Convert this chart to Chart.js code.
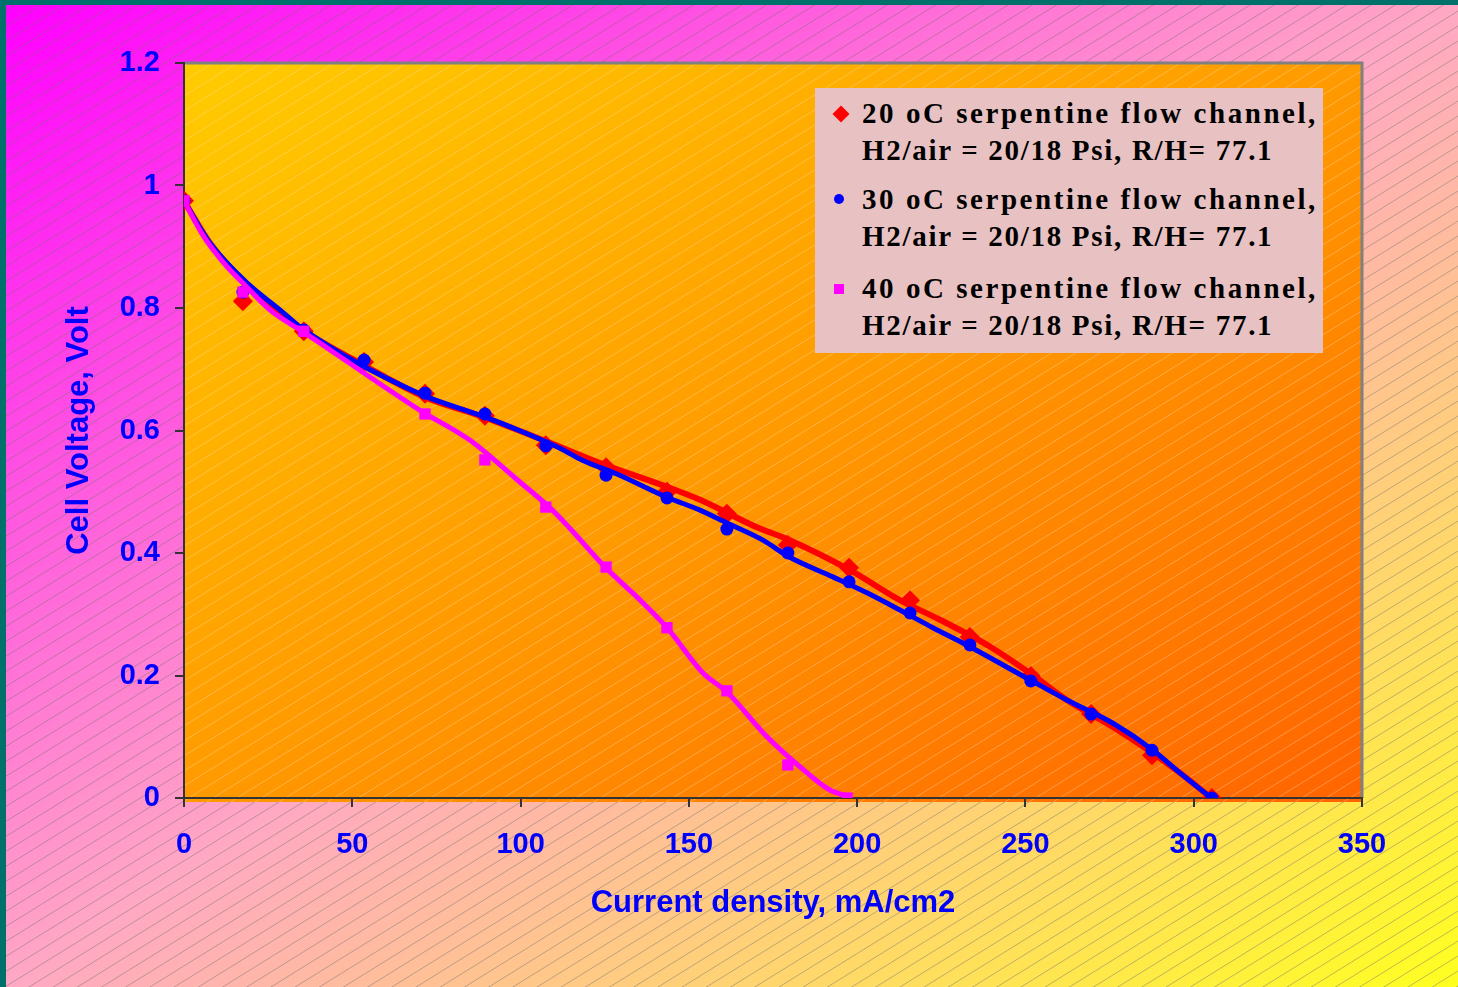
<!DOCTYPE html>
<html>
<head>
<meta charset="utf-8">
<script src="https://cdn.jsdelivr.net/npm/chart.js@4/dist/chart.umd.min.js"></script>
<style>
  body { margin: 0; width: 1458px; height: 987px; overflow: hidden; }
  #wrap { position: relative; width: 1458px; height: 987px; }
  #legend {
    position: absolute; left: 815px; top: 88px; width: 508px; height: 265px;
    background: #e8c2c2; box-sizing: border-box;
    font-family: "Liberation Serif", "Times New Roman", serif; font-weight: bold;
    font-size: 29px; color: #000;
  }
  .item { position: absolute; left: 47px; }
  .l1 { letter-spacing: 2.55px; white-space: nowrap; line-height: 37px; }
  .l2 { letter-spacing: 1.7px; white-space: nowrap; line-height: 37px; }
  .mk { position: absolute; }
</style>
</head>
<body>
<div id="wrap">
  <canvas id="chart" width="1458" height="987"></canvas>
  <div id="legend"></div>
</div>
<script>
// Series 1: 20 oC, series 2: 30 oC, series 3: 40 oC (all: H2/air = 20/18 Psi, R/H= 77.1)
const legendLines = [
  ["20 oC serpentine flow channel,", "H2/air = 20/18 Psi, R/H= 77.1"],
  ["30 oC serpentine flow channel,", "H2/air = 20/18 Psi, R/H= 77.1"],
  ["40 oC serpentine flow channel,", "H2/air = 20/18 Psi, R/H= 77.1"]
];

// measured points (current density, mA/cm2)
const currentRB = [0, 17.5, 35.6, 53.5, 71.6, 89.4, 107.5, 125.4, 143.5, 161.3, 179.4, 197.6, 215.7, 233.5, 251.6, 269.5, 287.6, 305.4];
const volt20 = [0.975, 0.811, 0.762, 0.712, 0.660, 0.624, 0.576, 0.540, 0.500, 0.464, 0.413, 0.376, 0.323, 0.263, 0.199, 0.137, 0.070, 0.0];
const volt30 = [0.975, 0.826, 0.764, 0.715, 0.661, 0.627, 0.575, 0.527, 0.490, 0.439, 0.400, 0.353, 0.302, 0.250, 0.191, 0.137, 0.078, 0.0];
const current40 = [0, 17.5, 35.6, 71.6, 89.4, 107.5, 125.4, 143.5, 161.3, 179.4, 197.0];
const volt40 = [0.975, 0.826, 0.762, 0.627, 0.552, 0.475, 0.377, 0.278, 0.175, 0.054, 0.0];

// trend lines
const trend20x = [0, 7.7, 18.7, 34.5, 52.3, 72.2, 87.9, 108.7, 123.6, 143.5, 153.3, 170.2, 180.0, 197.9, 212.7, 224.6, 239.5, 251.3, 262.3, 276.0, 287.9, 295.9, 304.8];
const trend20y = [0.975, 0.906, 0.838, 0.767, 0.710, 0.653, 0.624, 0.580, 0.547, 0.508, 0.487, 0.442, 0.421, 0.372, 0.323, 0.291, 0.247, 0.204, 0.160, 0.116, 0.073, 0.041, 0.002];
const trend30x = [0, 7.7, 18.7, 28.5, 34.5, 48.4, 58.2, 72.2, 87.9, 96.9, 111.7, 118.5, 128.6, 143.5, 153.3, 161.3, 172.0, 180.0, 192.8, 202.9, 212.7, 222.5, 233.5, 251.3, 262.3, 276.0, 287.9, 295.9, 304.8];
const trend30y = [0.975, 0.906, 0.841, 0.797, 0.769, 0.720, 0.691, 0.655, 0.625, 0.606, 0.571, 0.551, 0.529, 0.491, 0.470, 0.449, 0.421, 0.393, 0.361, 0.335, 0.307, 0.278, 0.247, 0.193, 0.160, 0.122, 0.078, 0.041, 0.002];
const trend40x = [0, 5.6, 11.6, 18.7, 25.5, 34.5, 42.5, 55.3, 70.1, 85.0, 98.9, 108.7, 114.7, 125.1, 134.6, 143.5, 154.2, 161.3, 173.2, 183.0, 191.9, 197.9];
const trend40y = [0.975, 0.919, 0.875, 0.834, 0.797, 0.764, 0.735, 0.687, 0.633, 0.584, 0.520, 0.474, 0.440, 0.377, 0.328, 0.278, 0.204, 0.173, 0.100, 0.051, 0.013, 0.002];

const xTicks = [0, 50, 100, 150, 200, 250, 300, 350];
const yTicks = [0, 0.2, 0.4, 0.6, 0.8, 1, 1.2];

const colors = ["#ff0000", "#0000ff", "#ff00ff"];

function pts(xs, ys) {
    return xs.map((x, i) => ({ x: x, y: ys[i] }));
}

// diagonal gradient so that top-right and bottom-left corners share a colour
function fillDiag(ctx, x, y, w, h, stops) {
    const k = 2 * w * h / (w * w + h * h);
    const g = ctx.createLinearGradient(x, y, x + k * h, y + k * w);
    stops.forEach(s => g.addColorStop(s[0], s[1]));
    ctx.fillStyle = g;
    ctx.fillRect(x, y, w, h);
}

function hatch(ctx, x, y, w, h, color) {
    ctx.save();
    ctx.beginPath();
    ctx.rect(x, y, w, h);
    ctx.clip();
    ctx.strokeStyle = color;
    ctx.lineWidth = 1;
    ctx.beginPath();
    for (let c = 0; c < 987 + 1458 * 0.62 + 20; c += 15) {
        ctx.moveTo(0, c);
        ctx.lineTo(1458, c - 1458 * 0.62);
    }
    ctx.stroke();
    ctx.restore();
}

const backgroundPlugin = {
    id: "background",
    beforeDraw(chart) {
        const { ctx, width, height, chartArea: a } = chart;
        ctx.save();
        ctx.fillStyle = "#00706a";
        ctx.fillRect(0, 0, width, height);
        fillDiag(ctx, 6, 5, width - 6, height - 5, [[0, "#ff00ff"], [0.5, "#ffa8c4"], [1, "#ffff20"]]);
        hatch(ctx, 6, 5, width - 6, height - 5, "rgba(110,110,110,0.45)");
        fillDiag(ctx, a.left, a.top, a.width, a.height + 4, [[0, "#ffcc00"], [0.5, "#ff9a00"], [1, "#ff6400"]]);
        hatch(ctx, a.left, a.top, a.width, a.height + 4, "rgba(255,225,200,0.35)");
        ctx.strokeStyle = "#808080";
        ctx.lineWidth = 3;
        ctx.beginPath();
        ctx.moveTo(a.left, a.top);
        ctx.lineTo(a.right, a.top);
        ctx.lineTo(a.right, a.bottom);
        ctx.stroke();
        ctx.restore();
    }
};

function trendSet(label, data, color, width, order) {
    return {
        label: label, data: data, borderColor: color, backgroundColor: color,
        borderWidth: width, pointRadius: 0, cubicInterpolationMode: "monotone", showLine: true,
        order: order, fill: false
    };
}

function markSet(label, data, color, style, radius, order) {
    return {
        label: label, data: data, borderColor: color, backgroundColor: color,
        pointStyle: style, pointRadius: radius, pointBorderWidth: 0,
        showLine: false, order: order
    };
}

document.addEventListener("DOMContentLoaded", () => {
    // Build legend
    const legend = document.getElementById("legend");
    const marks = [
        '<div class="mk" style="left:20px;top:20px;width:12px;height:12px;background:#ff0000;transform:rotate(45deg)"></div>',
        '<div class="mk" style="left:19px;top:106px;width:10px;height:10px;border-radius:50%;background:#0000ff"></div>',
        '<div class="mk" style="left:19px;top:196px;width:10px;height:10px;background:#ff00ff"></div>'
    ];
    const tops = [7, 93, 182];
    legendLines.forEach((lines, i) => {
        legend.insertAdjacentHTML("beforeend", marks[i] +
            `<div class="item" style="top:${tops[i]}px"><div class="l1">${lines[0]}</div><div class="l2">${lines[1]}</div></div>`);
    });

    const ctx = document.getElementById("chart").getContext("2d");
    new Chart(ctx, {
        type: "scatter",
        data: {
            datasets: [
                trendSet("trend 20", pts(trend20x, trend20y), colors[0], 6, 6),
                markSet(legendLines[0][0], pts(currentRB, volt20), colors[0], "rectRot", 10, 5),
                trendSet("trend 30", pts(trend30x, trend30y), colors[1], 5, 4),
                markSet(legendLines[1][0], pts(currentRB, volt30), colors[1], "circle", 6.5, 3),
                trendSet("trend 40", pts(trend40x, trend40y), colors[2], 5, 2),
                markSet(legendLines[2][0], pts(current40, volt40), colors[2], "rect", 8, 1)
            ]
        },
        options: {
            responsive: false,
            animation: false,
            layout: { padding: { left: 0, top: 63, right: 96, bottom: 0 } },
            plugins: {
                legend: { display: false },
                tooltip: { enabled: false }
            },
            scales: {
                x: {
                    type: "linear", min: 0, max: 350,
                    afterFit: (s) => { s.height = 189; },
                    afterBuildTicks: (s) => { s.ticks = xTicks.map(v => ({ value: v })); },
                    ticks: {
                        color: "#0000ff", padding: 21,
                        font: { family: "Liberation Sans, Arial, sans-serif", size: 29, weight: "bold" }
                    },
                    grid: { drawOnChartArea: false, drawTicks: true, tickLength: 9, color: "#333", lineWidth: 2 },
                    border: { color: "#333", width: 2 },
                    title: {
                        display: true, text: "Current density, mA/cm2", color: "#0000ff",
                        font: { family: "Liberation Sans, Arial, sans-serif", size: 31, weight: "bold" },
                        padding: { top: 0, bottom: 65 }
                    }
                },
                y: {
                    type: "linear", min: 0, max: 1.2,
                    afterFit: (s) => { s.width = 184; },
                    afterBuildTicks: (s) => { s.ticks = yTicks.map(v => ({ value: v })); },
                    ticks: {
                        color: "#0000ff", padding: 15,
                        font: { family: "Liberation Sans, Arial, sans-serif", size: 29, weight: "bold" },
                        callback: (v) => String(Number(v.toFixed(1)))
                    },
                    grid: { drawOnChartArea: false, drawTicks: true, tickLength: 9, color: "#333", lineWidth: 2 },
                    border: { color: "#333", width: 2 },
                    title: {
                        display: true, text: "Cell Voltage, Volt", color: "#0000ff",
                        font: { family: "Liberation Sans, Arial, sans-serif", size: 31, weight: "bold" },
                        padding: { top: 61, bottom: 0 }
                    }
                }
            }
        },
        plugins: [backgroundPlugin]
    });
});
</script>
</body>
</html>
